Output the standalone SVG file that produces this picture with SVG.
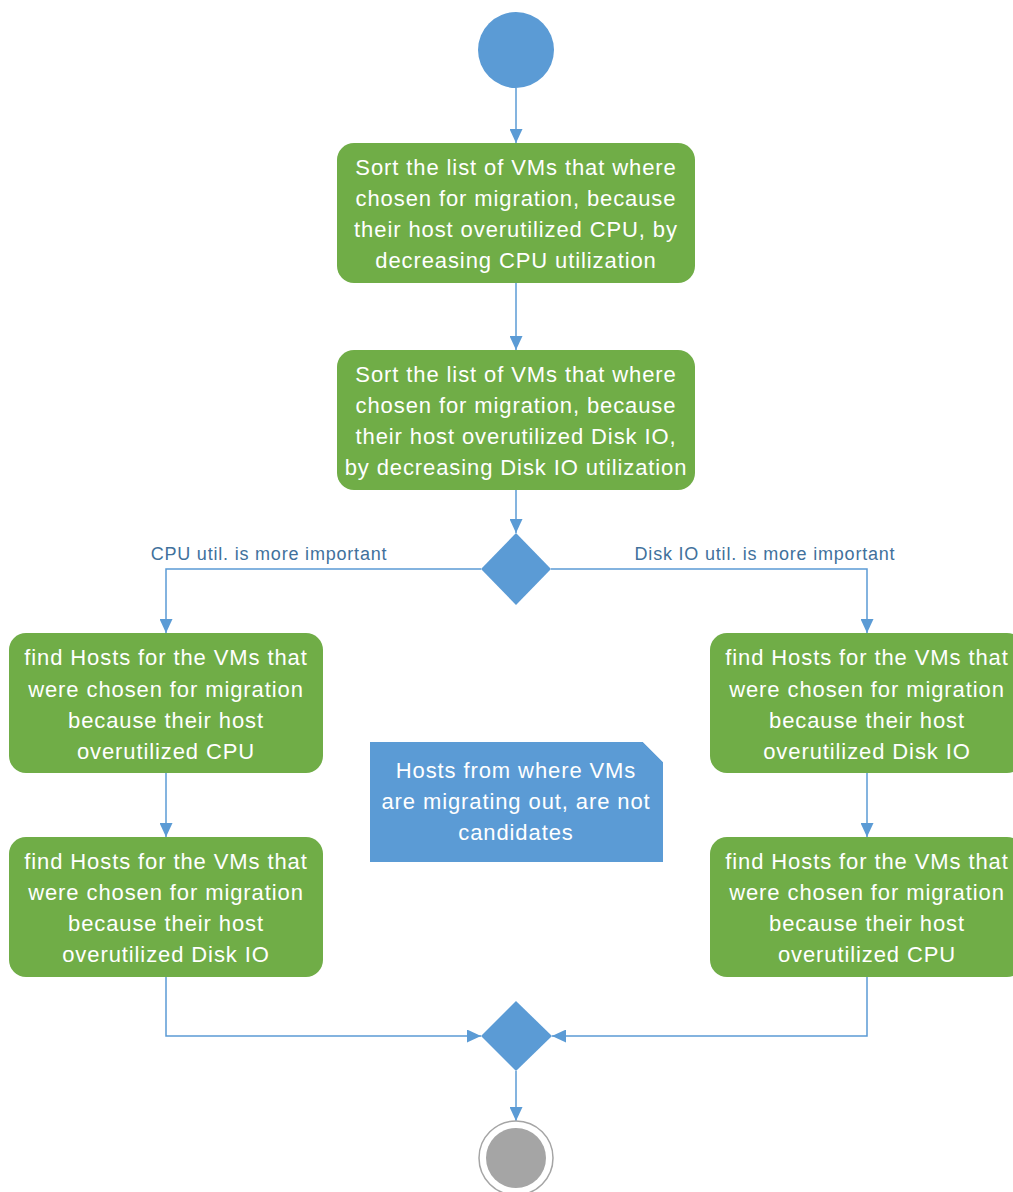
<svg xmlns="http://www.w3.org/2000/svg" width="1013" height="1192" viewBox="0 0 1013 1192">
  <style>
    .act { fill: #70AD47; }
    .txt { font-family: "Liberation Sans", Arial, sans-serif; font-size: 22px; fill: #FFFFFF; text-anchor: middle; letter-spacing: 0.9px; }
    .lbl { font-family: "Liberation Sans", Arial, sans-serif; font-size: 18px; fill: #41719C; text-anchor: middle; letter-spacing: 0.8px; }
    .flow { fill: none; stroke: #5B9BD5; stroke-width: 1.5; marker-end: url(#arrow); }
    .blue { fill: #5B9BD5; }
  </style>
  <defs>
    <marker id="arrow" markerUnits="userSpaceOnUse" markerWidth="14" markerHeight="13" refX="14" refY="6.5" orient="auto">
      <path d="M0,0 L14,6.5 L0,13 Z" fill="#5B9BD5"/>
    </marker>
  </defs>
  <rect width="1013" height="1192" fill="#FFFFFF"/>

  <!-- connectors -->
  <g id="connectors">
    <path class="flow" d="M516,88 L516,143"/>
    <path class="flow" d="M516,283 L516,350"/>
    <path class="flow" d="M516,490 L516,533"/>
    <path class="flow" d="M481,569 L166,569 L166,633"/>
    <path class="flow" d="M551,569 L867,569 L867,633"/>
    <path class="flow" d="M166,773 L166,837"/>
    <path class="flow" d="M867,773 L867,837"/>
    <path class="flow" d="M166,977 L166,1036 L481,1036"/>
    <path class="flow" d="M867,977 L867,1036 L552,1036"/>
    <path class="flow" d="M516,1071 L516,1121"/>
    <text class="lbl" x="269" y="560">CPU util. is more important</text>
    <text class="lbl" x="765" y="560">Disk IO util. is more important</text>
  </g>

  <!-- start -->
  <g id="start">
    <circle class="blue" cx="516" cy="50" r="38"/>
  </g>

  <g id="sort-cpu">
    <rect class="act" x="337" y="143" width="358" height="140" rx="17"/>
    <text class="txt" x="516" y="175">Sort the list of VMs that where</text>
    <text class="txt" x="516" y="206">chosen for migration, because</text>
    <text class="txt" x="516" y="237">their host overutilized CPU, by</text>
    <text class="txt" x="516" y="268">decreasing CPU utilization</text>
  </g>

  <g id="sort-disk">
    <rect class="act" x="337" y="350" width="358" height="140" rx="17"/>
    <text class="txt" x="516" y="382">Sort the list of VMs that where</text>
    <text class="txt" x="516" y="413">chosen for migration, because</text>
    <text class="txt" x="516" y="444">their host overutilized Disk IO,</text>
    <text class="txt" x="516" y="475">by decreasing Disk IO utilization</text>
  </g>

  <g id="decision">
    <polygon class="blue" points="516,533 551,569 516,605 481,569"/>
  </g>

  <g id="left-cpu">
    <rect class="act" x="9" y="633" width="314" height="140" rx="17"/>
    <text class="txt" x="166" y="665">find Hosts for the VMs that</text>
    <text class="txt" x="166" y="697">were chosen for migration</text>
    <text class="txt" x="166" y="728">because their host</text>
    <text class="txt" x="166" y="759">overutilized CPU</text>
  </g>

  <g id="left-disk">
    <rect class="act" x="9" y="837" width="314" height="140" rx="17"/>
    <text class="txt" x="166" y="869">find Hosts for the VMs that</text>
    <text class="txt" x="166" y="900">were chosen for migration</text>
    <text class="txt" x="166" y="931">because their host</text>
    <text class="txt" x="166" y="962">overutilized Disk IO</text>
  </g>

  <g id="right-disk">
    <rect class="act" x="710" y="633" width="314" height="140" rx="17"/>
    <text class="txt" x="867" y="665">find Hosts for the VMs that</text>
    <text class="txt" x="867" y="697">were chosen for migration</text>
    <text class="txt" x="867" y="728">because their host</text>
    <text class="txt" x="867" y="759">overutilized Disk IO</text>
  </g>

  <g id="right-cpu">
    <rect class="act" x="710" y="837" width="314" height="140" rx="17"/>
    <text class="txt" x="867" y="869">find Hosts for the VMs that</text>
    <text class="txt" x="867" y="900">were chosen for migration</text>
    <text class="txt" x="867" y="931">because their host</text>
    <text class="txt" x="867" y="962">overutilized CPU</text>
  </g>

  <g id="note">
    <polygon class="blue" points="370,742 643,742 663,762 663,862 370,862"/>
    <path d="M643,742 L663,762" fill="none" stroke="#D6E4F2" stroke-width="1"/>
    <text class="txt" x="516" y="778">Hosts from where VMs</text>
    <text class="txt" x="516" y="809">are migrating out, are not</text>
    <text class="txt" x="516" y="840">candidates</text>
  </g>

  <g id="merge">
    <polygon class="blue" points="516,1001 552,1036 516,1071 481,1036"/>
  </g>

  <g id="end">
    <circle cx="516" cy="1158" r="37" fill="#FFFFFF" stroke="#A5A5A5" stroke-width="1.5"/>
    <circle cx="516" cy="1158" r="30" fill="#A5A5A5"/>
  </g>
</svg>
